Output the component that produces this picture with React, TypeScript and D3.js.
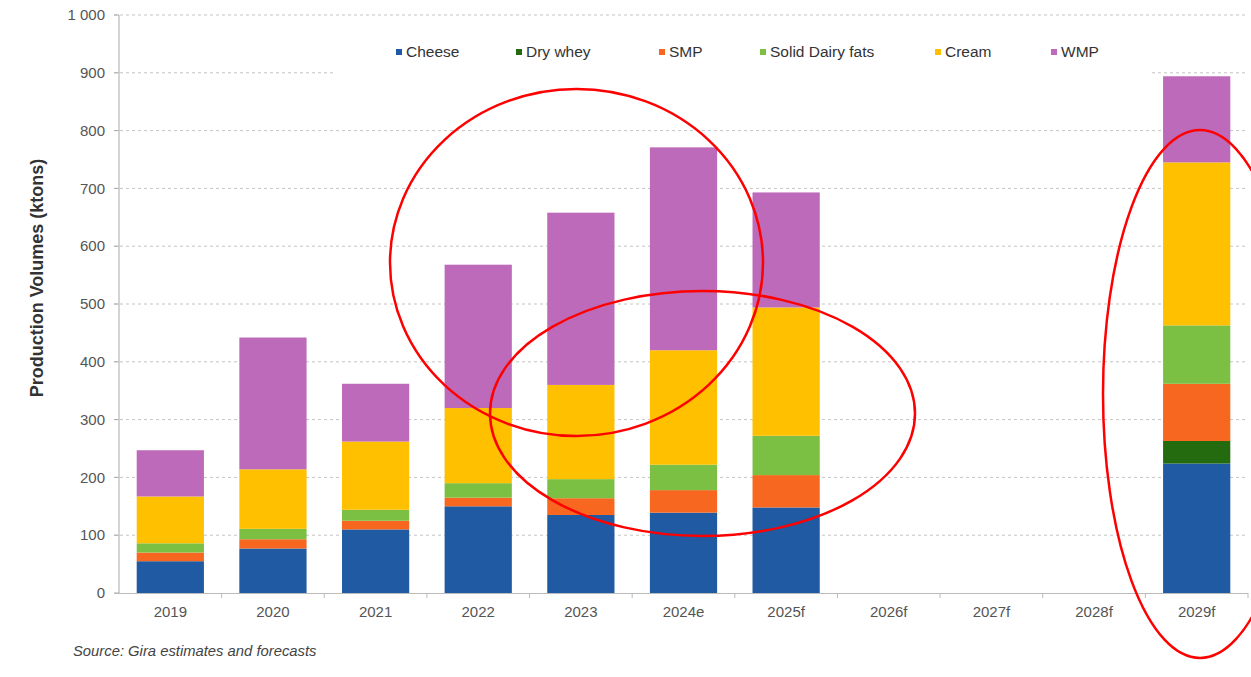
import React from "react";
import * as d3 from "d3";

const categories = ["2019", "2020", "2021", "2022", "2023", "2024e", "2025f", "2026f", "2027f", "2028f", "2029f"];
const cheese = [55, 77, 110, 150, 135, 139, 148, null, null, null, 224];
const dryWhey = [0, 0, 0, 0, 0, 0, 0, null, null, null, 39];
const smp = [15, 16, 15, 15, 29, 39, 56, null, null, null, 99];
const solidDairyFats = [16, 18, 19, 25, 33, 44, 68, null, null, null, 101];
const cream = [81, 103, 118, 130, 163, 198, 222, null, null, null, 282];
const wmp = [80, 228, 100, 248, 298, 351, 199, null, null, null, 149];

const seriesNames = ["Cheese", "Dry whey", "SMP", "Solid Dairy fats", "Cream", "WMP"];
const seriesValues = [cheese, dryWhey, smp, solidDairyFats, cream, wmp];
const seriesColors = ["#1f5aa3", "#246a0e", "#f7671f", "#7cc043", "#ffc000", "#bd6aba"];
const yTicks = [0, 100, 200, 300, 400, 500, 600, 700, 800, 900, 1000];

const W = 1251;
const H = 677;

export default function App() {
  const x = d3.scaleBand<string>().domain(categories).range([119, 1248]).paddingInner(0.345).paddingOuter(0.1725);
  const y = d3.scaleLinear().domain([0, 1000]).range([593, 15]);

  const table = categories.map((c, i) => {
    const row: any = { cat: c, empty: cheese[i] === null };
    seriesNames.forEach((n, k) => (row[n] = seriesValues[k][i] ?? 0));
    return row;
  });
  const stacked = d3.stack<any>().keys(seriesNames)(table);
  const fmt = (v: number) => d3.format(",")(v).replace(/,/g, " ");

  const legendTextX = [406, 526, 669, 770, 945, 1061];

  return (
    <svg width={W} height={H} style={{ position: "absolute", left: 0, top: 0, background: "#fff" }}
      fontFamily="'Liberation Sans', Arial, sans-serif">
      {/* grid */}
      {yTicks.filter((t) => t > 0).map((t) => (
        <line key={t} x1={114} x2={1248} y1={y(t)} y2={y(t)} stroke="#c4c4c4" strokeWidth={1} strokeDasharray="3,3" />
      ))}
      {/* legend box covering grid */}
      <rect x={336} y={28} width={814} height={50} fill="#fff" />
      {/* y axis */}
      <line x1={119} x2={119} y1={15} y2={593} stroke="#aaa" strokeWidth={1} />
      {yTicks.map((t) => (
        <g key={"yt" + t}>
          <line x1={114} x2={119} y1={y(t)} y2={y(t)} stroke="#aaa" />
          <text x={105} y={y(t)} dy="0.35em" textAnchor="end" fontSize={15} fill="#555">{fmt(t)}</text>
        </g>
      ))}
      {/* bars */}
      {stacked.map((s, k) => (
        <g key={s.key} fill={seriesColors[k]}>
          {s.map((d, i) =>
            d.data.empty || d[1] - d[0] <= 0 ? null : (
              <rect key={i} x={x(d.data.cat)} width={x.bandwidth()} y={y(d[1])} height={y(d[0]) - y(d[1])} />
            )
          )}
        </g>
      ))}
      {/* x axis */}
      <line x1={114} x2={1248} y1={593.5} y2={593.5} stroke="#bbb" strokeWidth={1} />
      {categories.map((c, i) => (
        <g key={"xt" + c}>
          <line x1={119 + x.step() * (i + 1)} x2={119 + x.step() * (i + 1)} y1={593} y2={598} stroke="#bbb" />
          <text x={(x(c) as number) + x.bandwidth() / 2} y={617} textAnchor="middle" fontSize={15} fill="#555">{c}</text>
        </g>
      ))}
      {/* y title */}
      <text transform="translate(43,278) rotate(-90)" textAnchor="middle" fontSize={18} fontWeight="bold" fill="#333">
        Production Volumes (ktons)
      </text>
      {/* legend */}
      {seriesNames.map((n, k) => (
        <g key={"lg" + n}>
          <rect x={legendTextX[k] - 10} y={49} width={6} height={6} fill={seriesColors[k]} />
          <text x={legendTextX[k]} y={52} dy="0.35em" fontSize={15.5} fill="#333">{n}</text>
        </g>
      ))}
      {/* source */}
      <text x={73} y={656} fontSize={14.8} fontStyle="italic" fill="#444">Source: Gira estimates and forecasts</text>
      {/* annotations */}
      <ellipse cx={576.5} cy={262.5} rx={186.5} ry={173.5} fill="none" stroke="#f00" strokeWidth={2.5} />
      <ellipse cx={702.5} cy={413.5} rx={212.5} ry={122.5} fill="none" stroke="#f00" strokeWidth={2.5} />
      <ellipse cx={1200} cy={394} rx={97} ry={264} fill="none" stroke="#f00" strokeWidth={2.5} />
    </svg>
  );
}
